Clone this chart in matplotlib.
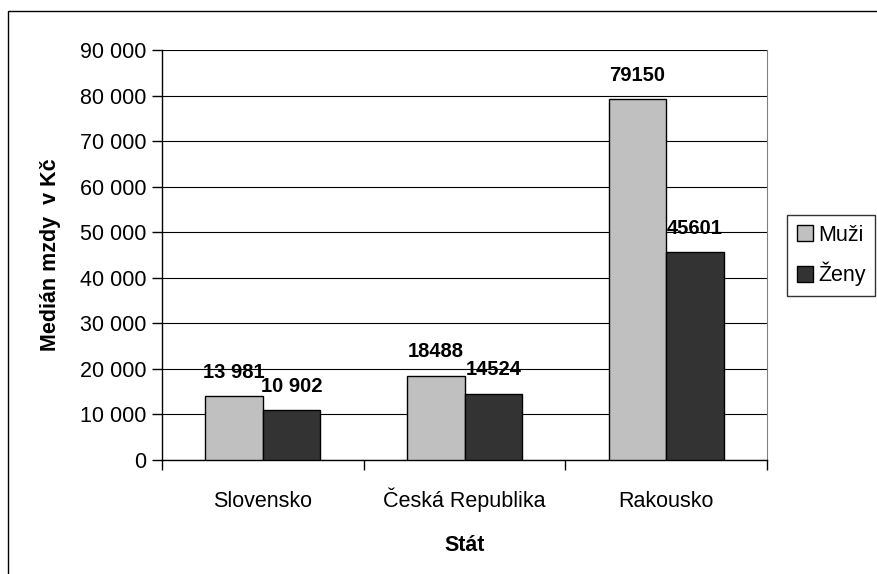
import matplotlib.pyplot as plt
import numpy as np
from matplotlib.patches import Rectangle

plt.rcParams['font.family'] = ['Liberation Sans', 'DejaVu Sans']

states = ["Slovensko", "Česká Republika", "Rakousko"]
muzi = [13981, 18488, 79150]
zeny = [10902, 14524, 45601]
muzi_labels = ["13 981", "18488", "79150"]
zeny_labels = ["10 902", "14524", "45601"]
yticks = [0, 10000, 20000, 30000, 40000, 50000, 60000, 70000, 80000, 90000]

W, H = 878, 574
fig = plt.figure(figsize=(W / 100, H / 100), dpi=100)
# outer chart frame
fig.patches.append(Rectangle((8 / W, -0.1), 1.0, 1 - 11 / H + 0.1, transform=fig.transFigure,
                             fill=False, edgecolor='black', linewidth=1.0))

ax = fig.add_axes([162 / W, 1 - 460 / H, (767 - 162) / W, (460 - 50) / H])

x = np.arange(len(states))
w = 1 / 3.5
ax.bar(x - w / 2, muzi, w, color='#c0c0c0', edgecolor='black', linewidth=1.0, label='Muži', zorder=3)
ax.bar(x + w / 2, zeny, w, color='#333333', edgecolor='black', linewidth=1.0, label='Ženy', zorder=3)

for i in range(len(states)):
    ax.annotate(muzi_labels[i], (x[i] - w / 2, muzi[i]), xytext=(0, 10.5),
                textcoords='offset points', ha='center', va='bottom',
                fontsize=14.5, fontweight='bold')
    ax.annotate(zeny_labels[i], (x[i] + w / 2, zeny[i]), xytext=(0, 10.5),
                textcoords='offset points', ha='center', va='bottom',
                fontsize=14.5, fontweight='bold')

ax.set_xlim(-0.5, 2.5)
ax.set_ylim(0, 90000)
ax.set_yticks(yticks)
ax.set_yticklabels([f"{v:,}".replace(",", " ") for v in yticks], fontsize=15.5)
ax.yaxis.grid(True, color='black', linewidth=0.8, zorder=0)

ax.set_xticks(x)
ax.set_xticklabels(states, fontsize=15.5, va='baseline')
ax.set_xticks([-0.5, 0.5, 1.5, 2.5], minor=True)
ax.tick_params(axis='x', which='major', length=0, pad=33.5)
ax.tick_params(axis='x', which='minor', length=7, width=1.0, direction='out')
ax.tick_params(axis='y', length=7, width=1.0, direction='out', pad=4)

ax.spines['top'].set_visible(False)
ax.spines['right'].set_color('#808080')
ax.spines['left'].set_linewidth(1.0)
ax.spines['bottom'].set_linewidth(1.0)

ax.set_xlabel("Stát", fontsize=15.5, fontweight='bold')
ax.xaxis.set_label_coords(0.5, -(535 - 460) / (460 - 50), transform=ax.transAxes)
ax.xaxis.label.set_va('top')
ax.set_ylabel("Medián mzdy  v Kč", fontsize=15.5, fontweight='bold', labelpad=14)

leg = fig.legend(loc='upper left', bbox_to_anchor=(787 / W, 1 - 215 / H), fontsize=15.5,
                 frameon=True, fancybox=False, edgecolor='black', handlelength=0.75,
                 handleheight=0.75, handletextpad=0.25, borderpad=0.45, labelspacing=0.75,
                 borderaxespad=0)
leg.get_frame().set_linewidth(1.0)

fig.savefig("out.png", dpi=100)
